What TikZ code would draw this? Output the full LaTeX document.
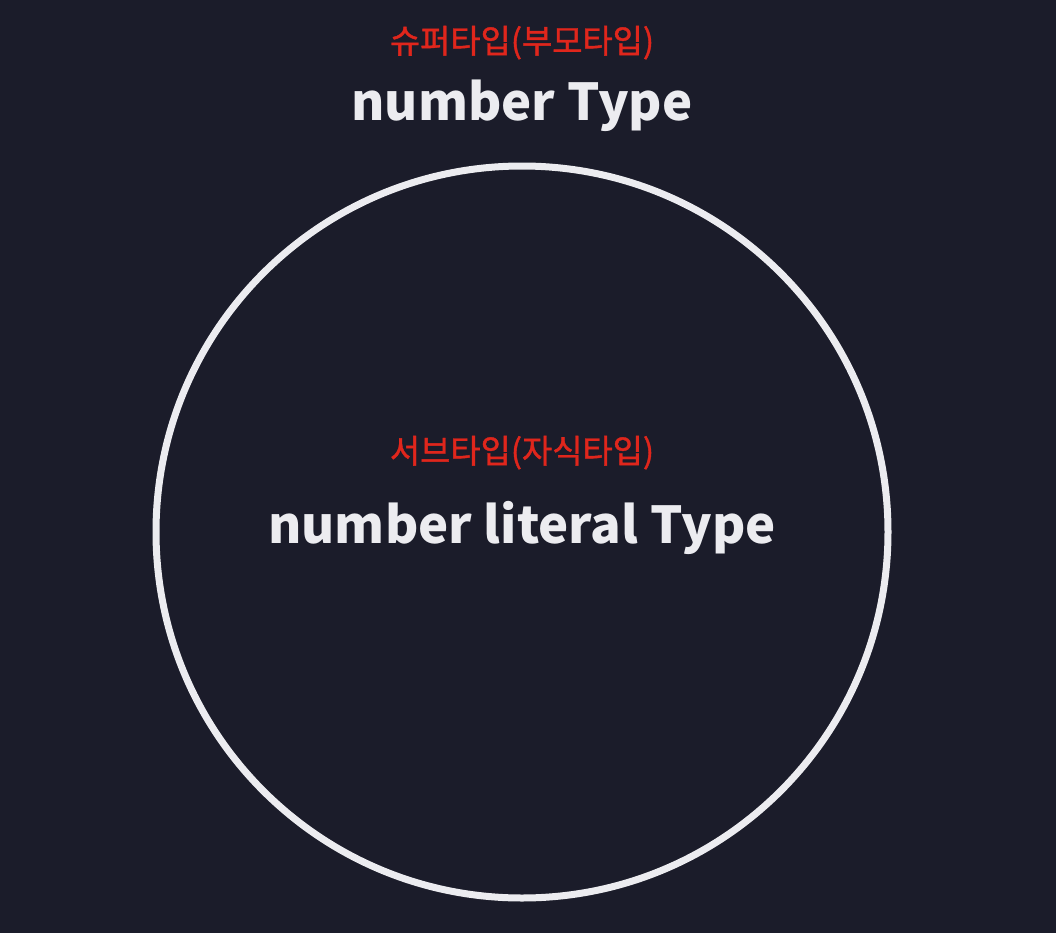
\documentclass[tikz,border=0pt]{standalone}
\usepackage{fontspec}
\setmainfont{Noto Sans CJK KR}
\newfontfamily\redfont[FakeBold=1.2]{Noto Sans CJK KR}
\definecolor{bgc}{HTML}{1B1C2A}
\definecolor{redc}{HTML}{E0261C}
\definecolor{whc}{HTML}{ECECF0}
\begin{document}
\begin{tikzpicture}[x=1bp,y=-1bp,
  sublabel/.style={text=redc,font=\redfont\fontsize{33}{38}\selectfont,inner sep=0pt,anchor=base},
  typelabel/.style={text=whc,font=\fontsize{51}{58}\selectfont\bfseries,inner sep=0pt,anchor=base}]
\fill[bgc] (0,0) rectangle (1056,933);
\useasboundingbox (0,0) rectangle (1056,933);
\draw[whc,line width=7bp] (522,532) circle[radius=366];
\node[sublabel] (sup) at (522,53) {슈퍼타입(부모타입)};
\node[typelabel] (supt) at (522,120) {number Type};
\node[sublabel] (sub) at (522,463) {서브타입(자식타입)};
\node[typelabel] (subt) at (522,543) {number literal Type};
\end{tikzpicture}
\end{document}
